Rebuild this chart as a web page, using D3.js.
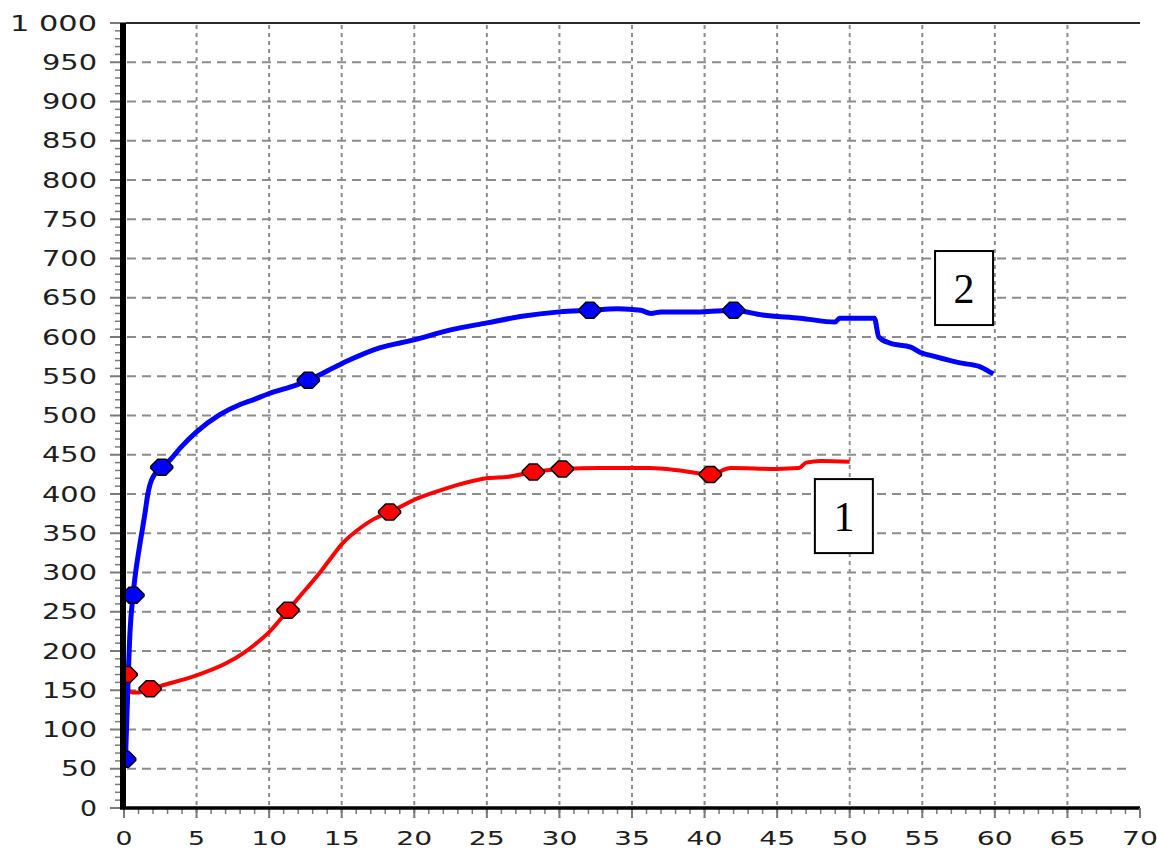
<!DOCTYPE html>
<html>
<head>
<meta charset="utf-8">
<script src="https://cdn.jsdelivr.net/npm/d3@7"></script>
<style>
html,body{margin:0;padding:0;background:#fff;}
svg{display:block;}
</style>
</head>
<body>
<svg id="chart" width="1157" height="850"></svg>
<script>
// ---- data ----
const xTicks = [0,5,10,15,20,25,30,35,40,45,50,55,60,65,70];
const yTicks = [0,50,100,150,200,250,300,350,400,450,500,550,600,650,700,750,800,850,900,950,1000];
const yTickLabels = ["0","50","100","150","200","250","300","350","400","450","500","550","600","650","700","750","800","850","900","950","1 000"];

// curve 1 (red)
const redX = [0, 0.3, 0.6, 1.0, 1.8, 3, 5, 7, 8.2, 9, 10, 11.3, 12.5, 13.5, 14.0, 15.1, 16.3, 17.2, 18.3, 20.3, 22, 25, 26.5, 28.2, 30.2, 32.8, 36.2, 38.3, 40.4, 41.8, 45, 46.5, 47, 48, 50];
const redY = [160, 150, 147, 147, 152, 158, 169, 184, 197, 208, 224, 252, 278, 300, 312, 338, 357, 368, 377, 395, 406, 420, 422, 428, 432, 433, 433, 430, 425, 433, 432, 433, 440, 442, 441];
const redMarkX = [0.15, 1.8, 11.3, 18.3, 28.2, 30.2, 40.4];
const redMarkY = [170, 152, 252, 377, 428, 432, 425];

// curve 2 (blue)
const blueX = [0.1, 0.2, 0.41, 0.62, 0.8, 1.0, 1.45, 1.65, 1.9, 2.6, 3.2, 3.9, 5, 6.6, 8.0, 8.9, 10, 11.9, 12.7, 15.1, 17.6, 19.9, 22.5, 25, 27.3, 30, 32.1, 34, 35.6, 36.3, 37, 39.7, 42, 44, 46.6, 49, 49.3, 51.7, 52, 52.8, 54.2, 54.8, 55.9, 57.6, 59, 59.7, 59.9];
const blueY = [60, 116, 223, 271, 300, 325, 376, 401, 418, 434, 444, 459, 479, 501, 514, 520, 528, 539, 545, 567, 586, 596, 609, 618, 626, 632, 634, 636, 634, 630, 632, 632, 634, 628, 624, 619, 624, 624, 600, 592, 587, 581, 575, 567, 562, 555, 553];
const blueMarkX = [0.05, 0.62, 2.6, 12.7, 32.1, 42.0];
const blueMarkY = [62, 271, 434, 545, 634, 634];

const curveLabels = ["1", "2"];

// ---- layout ----
const svg = d3.select("#chart");
const x = d3.scaleLinear().domain([0,70]).range([124,1140]);
const y = d3.scaleLinear().domain([0,1000]).range([808,23]);
const gridColor = "#8c8c8c";
const tickColor = "#7a7a7a";
const textColor = "#1e1e1e";

const defs = svg.append("defs");
defs.append("clipPath").attr("id","plotclip").append("rect")
  .attr("x", x(0)).attr("y", y(1000)-5).attr("width", x(70)-x(0)+10).attr("height", y(0)-y(1000)+5);

// horizontal dashed grid
svg.append("g").selectAll("line").data(yTicks.filter(v => v>0 && v<1000)).join("line")
  .attr("x1", x(0)+3).attr("x2", 1130)
  .attr("y1", d => y(d)).attr("y2", d => y(d))
  .attr("stroke", gridColor).attr("stroke-width", 2).attr("stroke-dasharray", "9,6");

// vertical dotted grid
svg.append("g").selectAll("line").data(xTicks.filter(v => v>0 && v<70)).join("line")
  .attr("x1", d => x(d)).attr("x2", d => x(d))
  .attr("y1", y(1000)+2).attr("y2", y(0)+10)
  .attr("stroke", gridColor).attr("stroke-width", 2).attr("stroke-dasharray", "4,4");

// top border
svg.append("line").attr("x1", x(0)).attr("x2", x(70)).attr("y1", y(1000)).attr("y2", y(1000))
  .attr("stroke", "#2a2a2a").attr("stroke-width", 2);

// minor ticks y
svg.append("g").selectAll("line").data(d3.range(0, 1001, 10).filter(v => v % 50 !== 0)).join("line")
  .attr("x1", x(0)-9).attr("x2", x(0)).attr("y1", d => y(d)).attr("y2", d => y(d))
  .attr("stroke", tickColor).attr("stroke-width", 1.5);
// major ticks y
svg.append("g").selectAll("line").data(yTicks).join("line")
  .attr("x1", x(0)-14).attr("x2", x(0)+2).attr("y1", d => y(d)).attr("y2", d => y(d))
  .attr("stroke", tickColor).attr("stroke-width", 2);
// minor ticks x
svg.append("g").selectAll("line").data(d3.range(0, 71, 1).filter(v => v % 5 !== 0)).join("line")
  .attr("x1", d => x(d)).attr("x2", d => x(d)).attr("y1", y(0)).attr("y2", y(0)+6)
  .attr("stroke", tickColor).attr("stroke-width", 1.5);
// major ticks x
svg.append("g").selectAll("line").data(xTicks).join("line")
  .attr("x1", d => x(d)).attr("x2", d => x(d)).attr("y1", y(0)).attr("y2", y(0)+10)
  .attr("stroke", tickColor).attr("stroke-width", 2);

// curves
const plot = svg.append("g").attr("clip-path", "url(#plotclip)");
const line = d3.line().x(d => x(d[0])).y(d => y(d[1])).curve(d3.curveMonotoneX);
plot.append("path").datum(d3.zip(redX, redY)).attr("d", line)
  .attr("fill","none").attr("stroke","#ff0000").attr("stroke-width",4).attr("stroke-linejoin","round");
plot.append("path").datum(d3.zip(blueX, blueY)).attr("d", line)
  .attr("fill","none").attr("stroke","#0000ff").attr("stroke-width",5).attr("stroke-linejoin","round");

const markerPath = "M-11,-1L-4,-8L4,-8L11,-1L11,1L4,8L-4,8L-11,1Z";
function drawMarkers(xs, ys, color){
  plot.append("g").selectAll("path").data(d3.zip(xs, ys)).join("path")
    .attr("d", markerPath)
    .attr("transform", d => `translate(${x(d[0])},${y(d[1])})`)
    .attr("fill", color).attr("stroke", "#000").attr("stroke-width", 1.5);
}
drawMarkers(redMarkX, redMarkY, "#ff0000");
drawMarkers(blueMarkX, blueMarkY, "#0000ff");

// axes lines
svg.append("line").attr("x1", x(0)-1).attr("x2", x(0)-1).attr("y1", y(1000)).attr("y2", y(0)+1)
  .attr("stroke", "#000").attr("stroke-width", 6);
svg.append("line").attr("x1", x(0)-4).attr("x2", x(70)).attr("y1", y(0)).attr("y2", y(0))
  .attr("stroke", "#000").attr("stroke-width", 3.5);
svg.append("line").attr("x1", x(70)).attr("x2", x(70)).attr("y1", y(0)).attr("y2", y(0)+8)
  .attr("stroke", tickColor).attr("stroke-width", 2);

// y labels
const charW = 19;
svg.append("g").selectAll("text").data(yTicks).join("text")
  .attr("x", 97).attr("y", d => y(d) + 7.5)
  .attr("text-anchor", "end")
  .attr("font-family", "DejaVu Sans, Verdana, sans-serif")
  .attr("font-size", 20.5).attr("fill", textColor)
  .attr("textLength", (d,i) => yTickLabels[i] === "1 000" ? 87 : yTickLabels[i].length * charW - 2)
  .attr("lengthAdjust", "spacingAndGlyphs")
  .text((d,i) => yTickLabels[i]);

// x labels
svg.append("g").selectAll("text").data(xTicks).join("text")
  .attr("x", d => x(d)).attr("y", 845)
  .attr("text-anchor", "middle")
  .attr("font-family", "DejaVu Sans, Verdana, sans-serif")
  .attr("font-size", 20).attr("fill", textColor)
  .attr("textLength", d => String(d).length * charW - 2)
  .attr("lengthAdjust", "spacingAndGlyphs")
  .text(d => d);

// curve label boxes
const boxes = [
  {label: curveLabels[0], bx: 47.6, by: 419},
  {label: curveLabels[1], bx: 55.88, by: 709.5}
];
const bw = 58, bh = 74;
const bg = svg.append("g").selectAll("g").data(boxes).join("g")
  .attr("transform", d => `translate(${x(d.bx)},${y(d.by)})`);
bg.append("rect").attr("width", bw).attr("height", bh)
  .attr("fill", "#fff").attr("stroke", "#000").attr("stroke-width", 2);
bg.append("text").attr("x", bw/2).attr("y", 52)
  .attr("text-anchor", "middle")
  .attr("font-family", "Liberation Serif, Times New Roman, serif")
  .attr("font-size", 42).attr("fill", "#000")
  .text(d => d.label);
</script>
</body>
</html>
